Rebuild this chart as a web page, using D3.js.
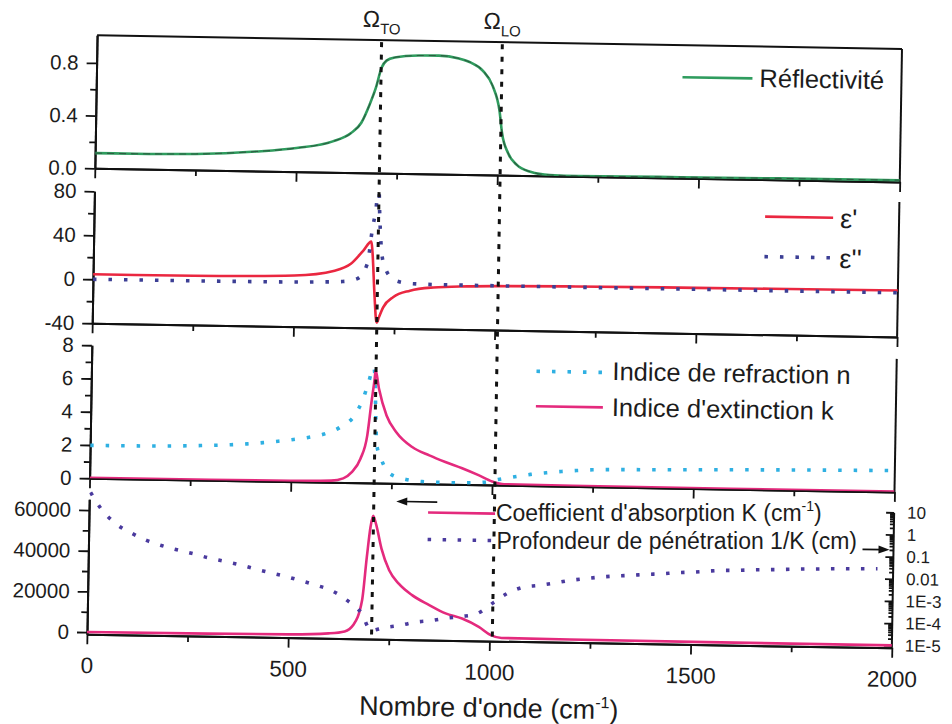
<!DOCTYPE html>
<html><head><meta charset="utf-8">
<script src="https://cdn.jsdelivr.net/npm/d3@7"></script>
<style>
body{margin:0;background:#fff}
text{font-family:"Liberation Sans",Arial,Helvetica,sans-serif;fill:#1c1c1c}
</style>
</head><body><svg id="c" width="952" height="724"></svg>
<script>
// ---------------- DATA ----------------
const omegaTO = 707, omegaLO = 1007;
const xTickValues = [0, 500, 1000, 1500, 2000];

// Panel 1 : reflectivity
const wnR = [0,100,250,400,500,590,635,660,680,695,708,720,740,800,850,900,930,960,985,1003,1010,1026,1048,1082,1130,1200,1400,1700,2000];
const reflectivity = [0.115,0.116,0.122,0.148,0.18,0.235,0.30,0.38,0.52,0.65,0.80,0.855,0.88,0.898,0.9,0.88,0.85,0.79,0.675,0.485,0.32,0.168,0.08,0.03,0.008,0.004,0.007,0.011,0.013];

// Panel 2 : epsilon' and epsilon''
const wnEps1 = [0,250,500,600,640,670,690,693,700,705,707,712,722,747,788,846,930,1007,1200,1500,2000];
const eps1 = [4.5,4.8,6.5,11.5,18,30,38.5,30,-10,-33,-35,-30,-21,-11.5,-5.5,-2.2,-0.7,0,0.9,1.5,2.2];
const wnEps2 = [0,300,500,550,620,657,681,692,700,706,710,716,725,750,789,826,900,1000,1500,2000];
const eps2 = [0,0.2,0.6,1.0,1.8,4.7,18.5,50,68,90,60,29,15,3.8,1.0,0.6,0.4,0.3,0.15,0.1];

// Panel 3 : n and k
const wnN = [0,100,200,275,350,390,430,467,505,544,581,620,658,676,689,701,705,708,712,725,746,786,826,864,905,943,980,1015,1050,1095,1135,1172,1210,1250,1410,1640,2000];
const nIndex = [1.98,1.99,2.02,2.08,2.16,2.23,2.32,2.42,2.54,2.69,2.9,3.32,4.14,5.05,6.05,6.96,6.3,4.2,2.3,1.36,0.57,0.25,0.14,0.11,0.10,0.11,0.16,0.34,0.5,0.68,0.8,0.89,0.96,1.02,1.09,1.18,1.28];
const wnK = [0,300,500,600,630,651,672,688,697,704,706,715,735,760,801,843,883,925,966,1000,1030,1200,2000];
const kIndex = [0.02,0.03,0.05,0.1,0.25,0.63,1.45,2.86,4.86,6.28,6.78,5.69,4.08,3.08,2.19,1.72,1.34,0.98,0.58,0.22,0.06,0.03,0.02];

// Panel 4 : absorption coefficient K (cm-1) and penetration depth 1/K (cm)
const wnAbs = [0,300,500,600,640,661,682,692,700,706,713,728,748,773,806,848,890,931,973,1003,1030,1200,2000];
const absK = [100,300,600,1400,2500,5700,17950,39300,54100,59500,55800,43500,32900,26300,20900,16300,12200,9800,5850,1900,600,400,200];
const wnDepth = [3,30,67,107,144,181,220,260,297,336,374,413,450,489,527,566,605,645,682,705,736,777,815,856,893,930,967,1010,1041,1082,1119,1156,1197,1234,1271,1313,1346,1387,1424,1461,1503,1540,1577,1618,1655,1693,1730,1767,1809,1850,1883,1924,1961];
const depth = [19.5,3.6,0.78,0.30,0.146,0.0885,0.058,0.040,0.027,0.0194,0.0141,0.0093,0.0065,0.0045,0.0030,0.0019,0.00112,0.00041,0.000105,0.0000188,0.0000255,0.0000333,0.000048,0.000059,0.0000775,0.000094,0.000127,0.00044,0.00108,0.0022,0.0027,0.0035,0.0048,0.0059,0.0071,0.0083,0.0090,0.0103,0.0113,0.0129,0.0142,0.0161,0.0179,0.0185,0.0202,0.0209,0.0220,0.0234,0.0244,0.0257,0.0262,0.0271,0.0279];

// tick values / labels
const yTicks1 = [0,0.4,0.8], yMinor1 = [0.2,0.6];
const yTicks2 = [-40,0,40,80], yMinor2 = [-20,20,60];
const yTicks3 = [0,2,4,6,8], yMinor3 = [1,3,5,7];
const yTicks4 = [0,20000,40000,60000], yMinor4 = [10000,30000,50000];
const rightTicks = [1e-5,1e-4,1e-3,0.01,0.1,1,10];
const rightLabels = ["1E-5","1E-4","1E-3","0.01","0.1","1","10"];

// ---------------- DRAWING ----------------
const C = {green:"#2f9c5e", red:"#ea2740", navy:"#3c3f95", cyan:"#2fb0e2", pink:"#e42a7d", purple:"#4a3a9e"};
const svgRoot = d3.select("#c");
const defs = svgRoot.append("defs");
// the scanned original is tilted by about one degree
const ANG = 0.97, CX = 490, CY = 340;
const svg = svgRoot.append("g").attr("transform",`rotate(${ANG},${CX},${CY})`);
function rot(px,py){
  const a = ANG*Math.PI/180;
  return [CX+Math.cos(a)*(px-CX)-Math.sin(a)*(py-CY), CY+Math.sin(a)*(px-CX)+Math.cos(a)*(py-CY)];
}
const L = 92, R = 897;
const x = d3.scaleLinear().domain([0,2000]).range([L,R]);

const panels = [
  {top:42, bottom:175, y:d3.scaleLinear().domain([0,1.01]).range([175,42]), ticks:yTicks1, minor:yMinor1, fmt:d3.format(".1f"), box:true, rTop:42},
  {top:198, bottom:330, y:d3.scaleLinear().domain([-40,80]).range([330,198]), ticks:yTicks2, minor:yMinor2, fmt:d=>String(d), rTop:195},
  {top:352, bottom:485, y:d3.scaleLinear().domain([0,8]).range([485,352]), ticks:yTicks3, minor:yMinor3, fmt:d=>String(d), rTop:352},
  {top:506, bottom:641, y:d3.scaleLinear().domain([-1000,65300]).range([641,506]), ticks:yTicks4, minor:yMinor4, fmt:d=>String(d), rTop:null}
];
const yLog = d3.scaleLog().domain([1e-5,10]).range([638.5,505.5]);

panels.forEach((p,i)=>{
  const t = i===3 ? 486 : p.top-2;
  defs.append("clipPath").attr("id","clip"+i).append("rect")
    .attr("x",L).attr("y",t).attr("width",R-L).attr("height",p.bottom-t);
});

function styleAxis(g){
  g.selectAll("path.domain").attr("stroke","#111").attr("stroke-width",2);
  g.selectAll(".tick line").attr("stroke","#111").attr("stroke-width",1.8);
}
const FONT = '"Liberation Sans",Arial,sans-serif';

const xMajor = xTickValues, xMinor = [250,750,1250,1750];
panels.forEach((p,i)=>{
  const gm = svg.append("g").attr("transform",`translate(${L},0)`)
    .call(d3.axisLeft(p.y).tickValues(p.minor).tickSize(6).tickSizeOuter(0).tickFormat(""));
  styleAxis(gm);
  const gl = svg.append("g").attr("transform",`translate(${L},0)`)
    .call(d3.axisLeft(p.y).tickValues(p.ticks).tickSize(10).tickSizeOuter(0).tickFormat(p.fmt).tickPadding(8));
  styleAxis(gl);
  gl.selectAll(".tick text").attr("font-size",20.5).attr("fill","#1c1c1c").attr("font-family",FONT);
  const gb = svg.append("g").attr("transform",`translate(0,${p.bottom})`)
    .call(d3.axisBottom(x).tickValues(xMinor).tickSize(6).tickSizeOuter(0).tickFormat(""));
  styleAxis(gb);
  const gb2 = svg.append("g").attr("transform",`translate(0,${p.bottom})`)
    .call(d3.axisBottom(x).tickValues(xMajor).tickSize(10).tickSizeOuter(0)
      .tickFormat(i===3 ? d3.format("d") : "").tickPadding(13));
  styleAxis(gb2);
  gb2.selectAll(".tick text").attr("font-size",22.5).attr("fill","#1c1c1c").attr("font-family",FONT);
  if(p.rTop!==null){
    svg.append("line").attr("x1",R).attr("x2",R).attr("y1",p.rTop).attr("y2",p.bottom).attr("stroke","#111").attr("stroke-width",2);
  }
  if(p.box){
    svg.append("line").attr("x1",L).attr("x2",R).attr("y1",p.top).attr("y2",p.top).attr("stroke","#111").attr("stroke-width",2);
  }
});

// right log axis (panel 4)
const minorLog = [];
for(let e=-5;e<1;e++){ for(let m=2;m<=9;m++){ minorLog.push(m*Math.pow(10,e)); } }
const gr1 = svg.append("g").attr("transform",`translate(${R},0)`)
  .call(d3.axisRight(yLog).tickValues(minorLog).tickSize(-4).tickSizeOuter(0).tickFormat(""));
styleAxis(gr1);
gr1.select("path.domain").remove();
const gr2 = svg.append("g").attr("transform",`translate(${R},0)`)
  .call(d3.axisRight(yLog).tickValues(rightTicks).tickSize(-8).tickSizeOuter(0)
    .tickFormat((d,i)=>rightLabels[i]).tickPadding(13));
styleAxis(gr2);
gr2.select("path.domain").attr("d",`M0,${panels[3].top}V${panels[3].bottom}`);
gr2.selectAll(".tick text").attr("font-size",17).attr("fill","#1c1c1c").attr("font-family",FONT);

// curves
function curve(i, xs, ys, yS, color, width, dash){
  const data = xs.map((v,j)=>[v,ys[j]]);
  const path = svg.append("path").datum(data)
    .attr("clip-path",`url(#clip${i})`)
    .attr("fill","none").attr("stroke",color).attr("stroke-width",width)
    .attr("stroke-linejoin","round")
    .attr("d", d3.line().x(d=>x(d[0])).y(d=>yS(d[1])).curve(d3.curveMonotoneX));
  if(dash) path.attr("stroke-dasharray",dash);
  return path;
}
curve(0, wnR, reflectivity, panels[0].y, C.green, 2.6);
curve(0, wnR, reflectivity, panels[0].y, "#2a2a2a", 1.1, "7,5").attr("opacity",0.55);
curve(1, wnEps1, eps1, panels[1].y, C.red, 2.6);
curve(1, wnEps2, eps2, panels[1].y, C.navy, 3.6, "3.5,12");
curve(2, wnN, nIndex, panels[2].y, C.cyan, 3.6, "3.5,12");
curve(2, wnK, kIndex, panels[2].y, C.pink, 2.6);
curve(3, wnAbs, absK, panels[3].y, C.pink, 2.6);
curve(3, wnDepth, depth, yLog, C.purple, 3.6, "3.5,11.5");

// Omega vertical lines
[omegaTO, omegaLO].forEach(w=>{
  svg.append("line").attr("x1",x(w)).attr("x2",x(w)).attr("y1",44).attr("y2",641)
    .attr("stroke","#111").attr("stroke-width",3).attr("stroke-dasharray","5,7.5");
});
function omegaLabel(w, sub){
  const t = svg.append("text").attr("x",x(w)-19).attr("y",29).attr("font-size",23);
  t.append("tspan").text("Ω");
  t.append("tspan").attr("font-size",15).attr("dy",7).text(sub);
}
omegaLabel(omegaTO,"TO");
omegaLabel(omegaLO,"LO");

// legends
function legLine(x1,x2,y,color,width,dash){
  const l = svg.append("line").attr("x1",x1).attr("x2",x2).attr("y1",y).attr("y2",y)
    .attr("stroke",color).attr("stroke-width",width);
  if(dash) l.attr("stroke-dasharray",dash);
}
function legText(xp,y,size,txt){
  return svg.append("text").attr("x",xp).attr("y",y).attr("font-size",size).text(txt);
}
// text placed at the tilted position but kept level (two close lines)
function legTextLevel(xp,y,size,txt){
  const p = rot(xp,y);
  return svgRoot.append("text").attr("x",p[0]).attr("y",p[1]).attr("font-size",size).text(txt);
}
legLine(678,748,74,C.green,2.6);
legText(755,82.5,25.5,"Réflectivité");

legLine(763,831,212,C.red,2.6);
legText(838,222,27,"ε'").attr("font-family",'"Liberation Serif","Times New Roman",serif');
legLine(763,831,252,C.navy,3.6,"3.5,12");
legText(838,262,27,"ε''").attr("font-family",'"Liberation Serif","Times New Roman",serif');

legLine(537,604,370.5,C.cyan,3.6,"3.5,12");
legText(613,378,25.5,"Indice de refraction n");
legLine(537,604,405.5,C.pink,2.6);
legText(613,414,25.5,"Indice d'extinction k");

legLine(431,498,513.5,C.pink,2.6);
const tK = legTextLevel(499,521,23,"Coefficient d'absorption K (cm");
tK.append("tspan").attr("font-size",14).attr("dy",-10).text("-1");
tK.append("tspan").attr("dy",10).text(")");
legLine(431,498,540.5,C.purple,3.6,"3.5,11.5");
legTextLevel(500,548.5,23,"Profondeur de pénétration 1/K (cm)");

// arrows
function arrow(x1,x2,y){
  const dir = Math.sign(x2-x1);
  svg.append("line").attr("x1",x1).attr("x2",x2-dir*8).attr("y1",y).attr("y2",y).attr("stroke","#111").attr("stroke-width",1.6);
  svg.append("path").attr("d",`M${x2},${y}L${x2-dir*11},${y-4}L${x2-dir*11},${y+4}Z`).attr("fill","#111");
}
arrow(440,399,503);
arrow(866,893,543);

// x axis title
const tt = svg.append("text").attr("x",495).attr("y",717).attr("text-anchor","middle").attr("font-size",27)
  .text("Nombre d'onde (cm");
tt.append("tspan").attr("font-size",16).attr("dy",-11).text("-1");
tt.append("tspan").attr("dy",11).text(")");
</script>
</body></html>
